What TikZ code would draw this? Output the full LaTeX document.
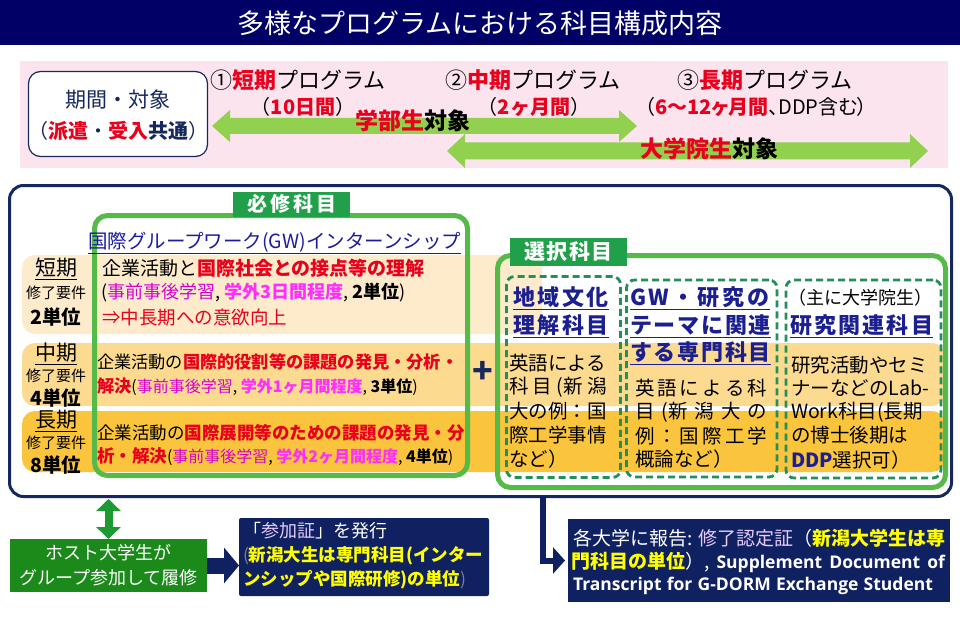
\documentclass[tikz,border=0pt]{standalone}
\usepackage{fontspec}
\usepackage{graphicx}
\setmainfont{Noto Sans CJK JP}
\newfontfamily\jpp{Noto Sans CJK JP}[RawFeature=+palt]
\newfontfamily\osans{Open Sans}
\usetikzlibrary{arrows.meta}
\definecolor{navyt}{HTML}{000066}
\definecolor{navyk}{HTML}{17285F}
\definecolor{navyb}{HTML}{0F2160}
\definecolor{hblue}{HTML}{1C1CA0}
\definecolor{hnavy}{HTML}{1B1F8F}
\definecolor{pinkbg}{HTML}{FCE4EE}
\definecolor{agreen}{HTML}{92D050}
\definecolor{gbor}{HTML}{55BA47}
\definecolor{glab}{HTML}{1FA049}
\definecolor{dgreen}{HTML}{23905A}
\definecolor{paleb}{HTML}{FDEBCB}
\definecolor{midb}{HTML}{FCDA8F}
\definecolor{longb}{HTML}{FAC43C}
\definecolor{hostg}{HTML}{1B8A1B}
\definecolor{vgreen}{HTML}{1E9A32}
\definecolor{cred}{HTML}{E8001C}
\definecolor{cmag}{HTML}{D400D4}
\definecolor{cmagb}{HTML}{FF2EFF}
\definecolor{cyel}{HTML}{FFFF00}
\definecolor{clav}{HTML}{E6CCFF}
\newcommand\fs[1]{\fontsize{#1}{#1}\selectfont}
\newcommand\xRB[1]{\textcolor{cred}{\bfseries #1}}
\newcommand\xRR[1]{\textcolor{cred}{#1}}
\newcommand\xMG[1]{\textcolor{cmag}{#1}}
\newcommand\xMB[1]{\textcolor{cmagb}{\bfseries #1}}
\newcommand\xYB[1]{\textcolor{cyel}{\bfseries #1}}
\newcommand\xLV[1]{\textcolor{clav}{#1}}
\begin{document}
\begin{tikzpicture}[x=1pt,y=-1pt,
  every node/.style={inner sep=0pt, outer sep=0pt},
  txt/.style={anchor=west},
  band/.style={rounded corners=13pt},
  gbox/.style={draw=gbor, line width=5pt, rounded corners=13pt, anchor=north west},
  glabel/.style={fill=glab, text=white},
  dbox/.style={draw=dgreen, line width=2.8pt, dash pattern=on 7pt off 4pt, rounded corners=8pt, anchor=north west},
  navybox/.style={fill=navyb, anchor=north west},
  bigarrow/.style={fill=agreen},
  colhead/.style={text=hnavy, font=\fs{22}\bfseries},
  body/.style={txt, font=\fs{19.5}}
]
\fill[white] (0,0) rectangle (960,639);
\useasboundingbox (0,0) rectangle (960,639);

% title
\node[fill=navyt, minimum width=960pt, minimum height=45pt, anchor=north west] (titlebar) at (0,0) {};
\node[font=\fs{27}, text=white] (title) at (480,23) {多様なプログラムにおける科目構成内容};

% pink band
\fill[pinkbg] (20,61) rectangle (948,168);
\node[draw=navyk, line width=1.2pt, fill=white, rounded corners=12pt, minimum width=179pt, minimum height=85pt, anchor=north west] (period) at (28.5,71.5) {};
\node[font=\fs{21}, text=navyk] (pt1) at (118,100) {期間・対象};
\node[font=\fs{20}, text=navyk] (pt2) at (118,131) {（\xRB{派遣}・\xRB{受入}{\bfseries 共通}）};

% range arrows
\fill[bigarrow] (212,126) -- (230,110) -- (230,118) -- (619,118) -- (619,110) -- (637,126) -- (619,142) -- (619,134) -- (230,134) -- (230,142) -- cycle;
\fill[bigarrow] (447,151) -- (465,134) -- (465,142.5) -- (910,142.5) -- (910,134) -- (928,151) -- (910,168) -- (910,159.5) -- (465,159.5) -- (465,168) -- cycle;

\node[txt, font=\fs{22}] (h1a) at (210,80) {①\xRB{短期}プログラム};
\node[font=\fs{20}] (h1b) at (303,107) {（\xRB{10日間}）};
\node[txt, font=\fs{22}] (h2a) at (445,80) {②\xRB{中期}プログラム};
\node[font=\fs{20}] (h2b) at (534,107) {（\xRB{2ヶ月間}）};
\node[txt, font=\fs{22}] (h3a) at (677,80) {③\xRB{長期}プログラム};
\node[txt, font=\fs{20}\jpp] (h3b) at (645,107) {（\xRB{6～12ヶ月間}、DDP含む）};
\node[font=\fs{23}\bfseries] (ug) at (413,121) {\textcolor{cred}{学部生}対象};
\node[font=\fs{23}\bfseries] (gr) at (709,149) {\textcolor{cred}{大学院生}対象};

% main box
\node[draw=navyk, line width=3pt, fill=white, rounded corners=14pt, minimum width=942pt, minimum height=311pt, anchor=north west] (mainbox) at (9.5,185.5) {};

% bands
\fill[paleb, band] (22,255) rectangle (542,334);
\fill[midb, band] (22,343) rectangle (945,406);
\fill[longb, band] (22,411) rectangle (945,472);

% GW box
\node[gbox, minimum width=373pt, minimum height=260pt] (gw) at (94.5,215.5) {};
\node[glabel, minimum width=117pt, minimum height=25pt, font=\fs{20}\bfseries\addfontfeature{LetterSpace=15}] (hisshu) at (291.5,204) {必修科目};
\node[txt, font=\fs{19.5}, text=hblue] (gwtitle) at (88,243) {\underline{国際グループワーク(GW)インターンシップ}};

% row labels
\node[font=\fs{21}] (l1a) at (56,269) {\underline{短期}};
\node[font=\fs{15}] (l1b) at (56,293) {修了要件};
\node[font=\fs{19.5}\bfseries] (l1c) at (56,317) {2単位};
\node[font=\fs{21}] (l2a) at (56,354) {\underline{中期}};
\node[font=\fs{15}] (l2b) at (56,376) {修了要件};
\node[font=\fs{19.5}\bfseries] (l2c) at (56,398) {4単位};
\node[font=\fs{21}] (l3a) at (56,421) {\underline{長期}};
\node[font=\fs{15}] (l3b) at (56,443) {修了要件};
\node[font=\fs{19.5}\bfseries] (l3c) at (56,465) {8単位};

% row texts
\node[txt, font=\fs{19}] (r1a) at (102,268) {企業活動と\xRB{国際社会との接点等の理解}};
\node[txt, font=\fs{18}] (r1b) at (101,293) {(\xMG{事前事後学習}, \xMB{学外3日間程度}, \textbf{2単位})};
\node[txt, font=\fs{18.5}] (r1c) at (102,317) {\xRR{⇒中長期への意欲向上}};
\node[txt, font=\fs{17.2}] (r2a) at (97,362) {企業活動の\xRB{国際的役割等の課題の発見・分析・}};
\node[txt] (r2b) at (97,387) {\fs{17.2}\xRB{解決}\fs{16}(\xMG{事前事後学習}, \xMB{学外1ヶ月間程度}, \textbf{3単位})};
\node[txt, font=\fs{17.5}] (r3a) at (97,433) {企業活動の\xRB{国際展開等のための課題の発見・分}};
\node[txt] (r3b) at (97,457) {\fs{17.5}\xRB{析・解決}\fs{16}(\xMG{事前事後学習}, \xMB{学外2ヶ月間程度}, \textbf{4単位})};

\node[font=\fs{34}\bfseries, text=navyk] (plus) at (483,372) {+};

% elective box
\node[gbox, minimum width=448pt, minimum height=232pt] (sentaku) at (497.5,255.5) {};
\node[glabel, minimum width=117pt, minimum height=28pt, font=\fs{21}\bfseries\addfontfeature{LetterSpace=5}] (senlab) at (568.5,252) {選択科目};
\node[dbox, minimum width=114pt, minimum height=201pt] (col1) at (506.5,276.5) {};
\node[dbox, minimum width=150.5pt, minimum height=197pt] (col2) at (626.5,280) {};
\node[dbox, minimum width=155pt, minimum height=198pt] (col3) at (786,280) {};

\node[colhead, font=\fs{22}\bfseries\addfontfeature{LetterSpace=12}] (c1h1) at (561,298) {\underline{地域文化}};
\node[colhead, font=\fs{22}\bfseries\addfontfeature{LetterSpace=12}] (c1h2) at (561,326) {\underline{理解科目}};
\node[body] (c1b1) at (509,363) {英語による};
\node[body] (c1b2) at (509,387) {\makebox[98pt][s]{科\hfil 目\hfil (新\hfil 潟}};
\node[body] (c1b3) at (509,411) {大の例：国};
\node[body] (c1b4) at (509,435) {際工学事情};
\node[body] (c1b5) at (509,459) {など）};

\node[txt, colhead, font=\fs{22}\bfseries\addfontfeature{LetterSpace=14}] (c2h1) at (630,298) {\underline{GW・研究の}};
\node[txt, colhead, font=\fs{22}\bfseries\addfontfeature{LetterSpace=8}] (c2h2) at (630,326) {\underline{テーマに関連}};
\node[txt, colhead, font=\fs{22}\bfseries\addfontfeature{LetterSpace=8}] (c2h3) at (630,353) {\underline{する専門科目}};
\node[body] (c2b1) at (635,388) {\makebox[132pt][s]{英\hfil 語\hfil に\hfil よ\hfil る\hfil 科}};
\node[body] (c2b2) at (635,412) {\makebox[132pt][s]{目\hfil (新\hfil 潟\hfil 大\hfil の}};
\node[body] (c2b3) at (635,436) {\makebox[132pt][s]{例\hfil ：\hfil 国\hfil 際\hfil 工\hfil 学}};
\node[body] (c2b4) at (635,459) {概論など）};

\node[txt, font=\fs{18}] (c3h1) at (788,298) {（主に大学院生）};
\node[txt, colhead, font=\fs{22}\bfseries\addfontfeature{LetterSpace=10}] (c3h2) at (790,326) {\underline{研究関連科目}};
\node[body] (c3b1) at (791,365) {研究活動やセミ};
\node[body] (c3b2) at (791,388) {ナーなどのLab-};
\node[body] (c3b3) at (791,412) {Work科目(長期};
\node[body] (c3b4) at (791,435) {の博士後期は};
\node[body] (c3b5) at (791,460) {\textcolor{hnavy}{\bfseries DDP}選択可）};

% bottom
\node[fill=hostg, minimum width=197pt, minimum height=53pt, anchor=north west, text=white, align=center, font=\fontsize{18}{25}\selectfont] (host) at (10,539) {ホスト大学生が\\グループ参加して履修};
\coordinate (vtop) at (108.5,499);
\draw[vgreen, line width=8pt, {Triangle[width=24pt,length=12pt]}-{Triangle[width=24pt,length=12pt]}] (vtop) -- (vtop |- host.north);

\node[navybox, rounded corners=2pt, minimum width=250pt, minimum height=78pt] (cert) at (239,518) {};
\draw[navyb, line width=16pt, -{Triangle[width=35pt,length=15pt]}] (host.east) -- (host.east -| cert.west);
\node[txt, font=\fs{18}, text=white] (cert1) at (243,531) {「\xLV{参加証}」を発行};
\node[txt, font=\fs{17.5}] (cert2) at (243,556) {\textcolor{gray}{(}\xYB{新潟大生は専門科目(インター}};
\node[txt, font=\fs{17.5}] (cert3) at (243,580) {\xYB{ンシップや国際研修)の単位}\textcolor{gray}{)}};

\node[navybox, minimum width=382pt, minimum height=83pt] (rep) at (568,519) {};
\coordinate (etop) at (543,496);
\draw[navyb, line width=6pt, -{Triangle[width=26pt,length=12pt]}, shorten >=3pt] (etop) |- (rep.west);
\node[txt, font=\fs{19}, text=white] (rep1) at (573,538) {\makebox[372pt][s]{各大学に報告: \xLV{修了認定証}（\xYB{新潟大学生は専}}};
\node[txt, font=\fs{19}, text=white] (rep2) at (571,562) {\makebox[374pt][s]{\xYB{門科目の単位}）, {\osans\bfseries\fs{17.5}Supplement Document of}}};
\node[txt, font=\osans\bfseries\fs{17.5}, text=white] (rep3) at (573,586) {\makebox[360pt][s]{Transcript for G-DORM Exchange Student}};
\end{tikzpicture}
\end{document}
